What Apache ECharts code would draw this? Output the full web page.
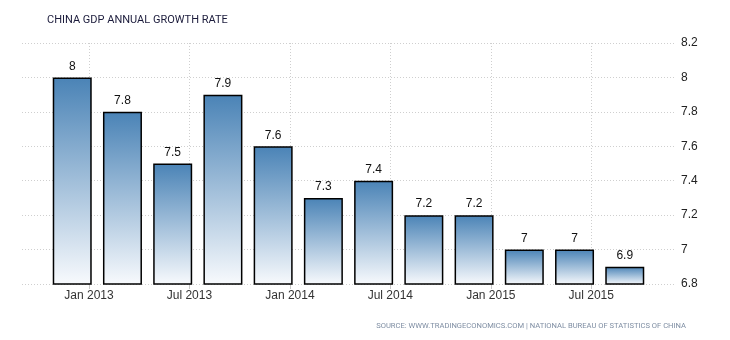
<!DOCTYPE html>
<html>
<head>
<meta charset="utf-8">
<script src="https://cdn.jsdelivr.net/npm/echarts@6/dist/echarts.min.js"></script>
<style>
html,body{margin:0;padding:0;background:#fff;}
#chart{width:730px;height:340px;}
</style>
</head>
<body>
<div id="chart"></div>
<script>
// Quarterly observations (year-month of each bar)
const periods = ['2012-12','2013-03','2013-06','2013-09','2013-12','2014-03','2014-06','2014-09','2014-12','2015-03','2015-06','2015-09'];
const growth = [8, 7.8, 7.5, 7.9, 7.6, 7.3, 7.4, 7.2, 7.2, 7, 7, 6.9];
const xTickDates = ['2013-01','2013-07','2014-01','2014-07','2015-01','2015-07'];
const xTickLabels = ['Jan 2013','Jul 2013','Jan 2014','Jul 2014','Jan 2015','Jul 2015'];
const yTicks = [6.8, 7, 7.2, 7.4, 7.6, 7.8, 8, 8.2];

function monthIndex(s){ const [y,m] = s.split('-').map(Number); return (y-2013)*12 + (m-1); }
const tickPos = xTickDates.map(monthIndex);
const labelMap = {}; tickPos.forEach((p,i)=>{ labelMap[p] = xTickLabels[i]; });

const chart = echarts.init(document.getElementById('chart'), null, {renderer:'canvas'});
chart.setOption({
  animation:false,
  backgroundColor:'#fff',
  title:{
    text:'CHINA GDP ANNUAL GROWTH RATE',
    left:42, top:10,
    textStyle:{fontFamily:'Roboto', fontSize:11, fontWeight:'normal', color:'#1c1c3c'}
  },
  graphic:[{
    type:'text', right:44, top:322,
    style:{text:'SOURCE: WWW.TRADINGECONOMICS.COM | NATIONAL BUREAU OF STATISTICS OF CHINA',
      font:'7.6px Roboto', fill:'#7f8ea3'}
  }],
  grid:{left:22, right:55, top:43, bottom:56, containLabel:false},
  xAxis:{
    type:'value', min:-4, max:35,
    axisLine:{show:false},
    axisTick:{show:true, customValues:tickPos, length:5, lineStyle:{color:'#c8c8c8'}},
    axisLabel:{customValues:tickPos, formatter:v=>labelMap[v]||'', color:'#333', fontSize:12, fontFamily:'Liberation Sans', margin:6},
    splitLine:{show:true, lineStyle:{color:'#cfcfcf', type:[1,2]}}
  },
  yAxis:{
    type:'value', position:'right', min:6.8, max:8.2, interval:0.2,
    axisLine:{show:false}, axisTick:{show:false},
    axisLabel:{color:'#222', fontSize:12, fontFamily:'Liberation Sans', margin:6,
      formatter:v=>String(Math.round(v*10)/10)},
    splitLine:{show:true, lineStyle:{color:'#cfcfcf', type:[1,2]}}
  },
  series:[{
    type:'bar',
    barWidth:39,
    data: periods.map((p,i)=>[monthIndex(p), growth[i]]),
    itemStyle:{
      borderColor:'#000', borderWidth:1.5,
      color:new echarts.graphic.LinearGradient(0,0,0,1,[
        {offset:0, color:'#4a83b6'},
        {offset:1, color:'#f8fafd'}
      ])
    },
    label:{show:true, position:'top', distance:5, color:'#111', fontSize:12, fontFamily:'Liberation Sans',
      formatter:p=>String(p.value[1])}
  }]
});
</script>
</body>
</html>
